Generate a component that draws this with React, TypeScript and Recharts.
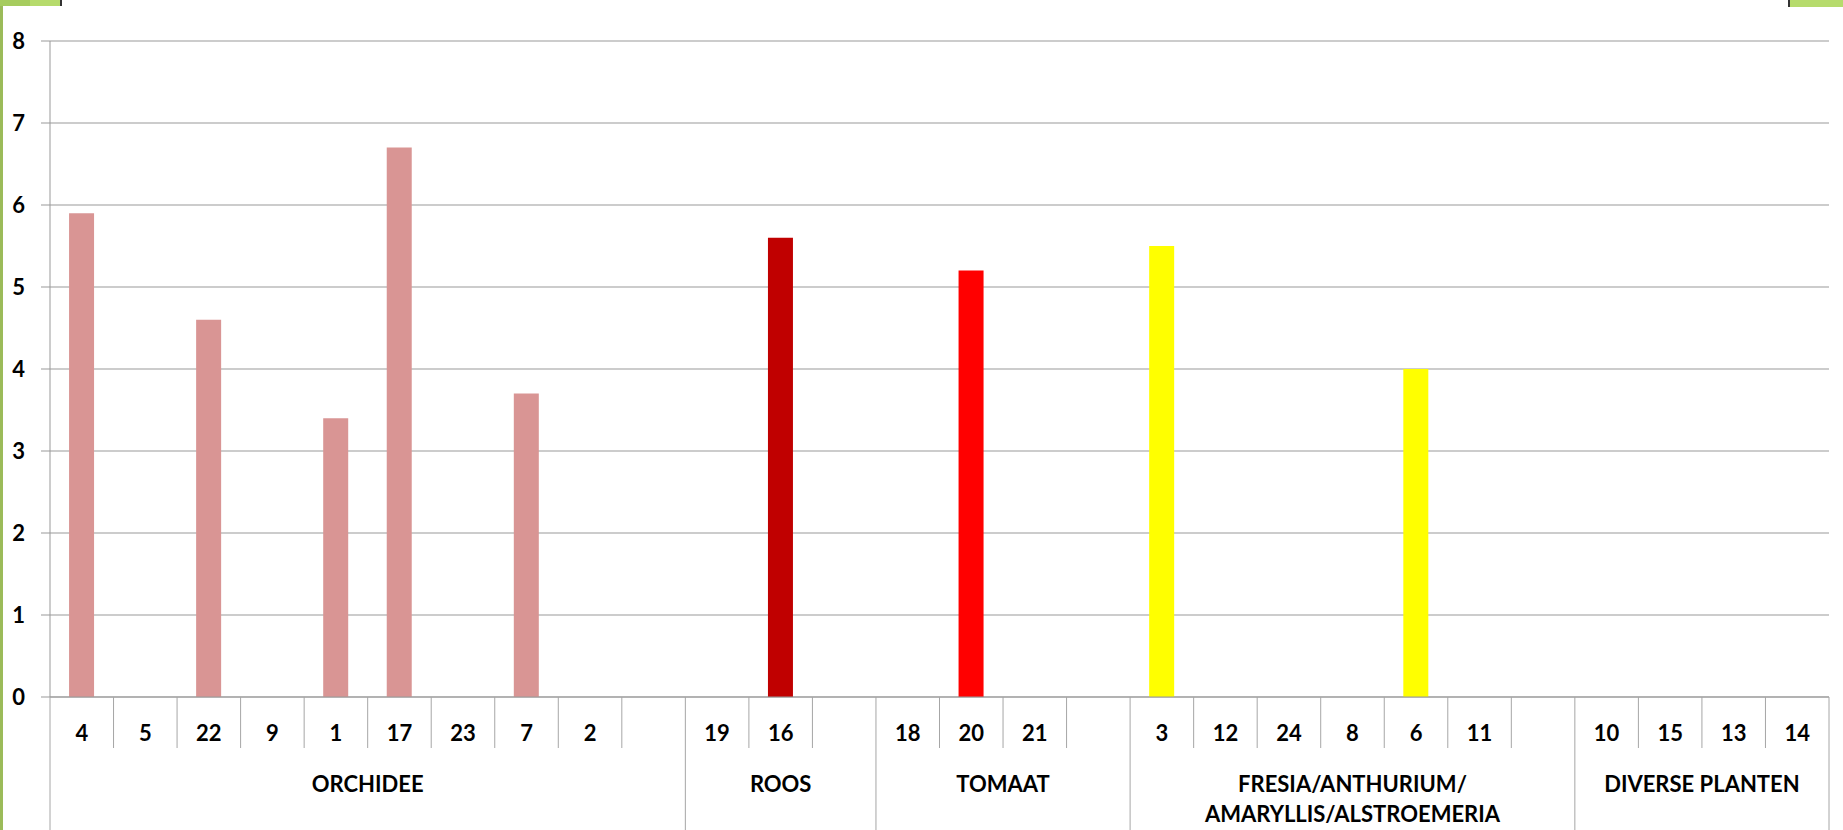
import React from 'react';
import { BarChart, Bar, XAxis, YAxis, CartesianGrid, Cell } from 'recharts';

const W = 1843;
const H = 830;
const MARGIN = { top: 41, right: 14, left: 0, bottom: 0 };
const Y_AXIS_W = 50;
const CAT_AXIS_H = 51;
const GROUP_AXIS_H = 82;

// one entry per slot on the axis, blanks are the gaps between groups
const categoryLabels = [
  '4', '5', '22', '9', '1', '17', '23', '7', '2', '',
  '19', '16', '',
  '18', '20', '21', '',
  '3', '12', '24', '8', '6', '11', '',
  '10', '15', '13', '14',
];
const values: (number | null)[] = [
  5.9, null, 4.6, null, 3.4, 6.7, null, 3.7, null, null,
  null, 5.6, null,
  null, 5.2, null, null,
  5.5, null, null, null, 4.0, null, null,
  null, null, null, null,
];
const groupNames = ['ORCHIDEE', 'ROOS', 'TOMAAT', 'FRESIA/ANTHURIUM/\nAMARYLLIS/ALSTROEMERIA', 'DIVERSE PLANTEN'];
const groupSizes = [10, 3, 4, 7, 4];
const groupColors = ['#D99594', '#C00000', '#FF0000', '#FFFF00', '#D99594'];
const yTicks = [0, 1, 2, 3, 4, 5, 6, 7, 8];

const groupOf: number[] = [];
groupSizes.forEach((n, g) => {
  for (let k = 0; k < n; k++) groupOf.push(g);
});
const groupStart: number[] = groupSizes.map((_, g) => groupSizes.slice(0, g).reduce((a, b) => a + b, 0));

const data = categoryLabels.map((label, i) => ({
  key: `c${i}`,
  label,
  value: values[i],
  color: groupColors[groupOf[i]],
}));

const PLOT_W = W - MARGIN.left - MARGIN.right - Y_AXIS_W;
const BAND = PLOT_W / categoryLabels.length;

const LINE = '#A6A6A6';
const GRID = '#999999';
const FONT = { fontFamily: 'Lato, sans-serif', fontWeight: 700, fontSize: 22, fill: '#000' };

const CatTick = (props: any) => {
  const { x, y, index } = props;
  const left = x - BAND / 2;
  return (
    <g>
      <line x1={left} x2={left} y1={y} y2={y + CAT_AXIS_H} stroke={LINE} />
      {index === categoryLabels.length - 1 && (
        <line x1={x + BAND / 2} x2={x + BAND / 2} y1={y} y2={y + CAT_AXIS_H} stroke={LINE} />
      )}
      <text x={x} y={y + 35} textAnchor="middle" dominantBaseline="central" {...FONT}>
        {categoryLabels[index]}
      </text>
    </g>
  );
};

const GroupTick = (props: any) => {
  const { x, y, index } = props;
  const g = groupOf[index];
  const isFirst = groupStart[g] === index;
  const isLast = index === categoryLabels.length - 1;
  if (!isFirst && !isLast) return <g />;
  const lines = groupNames[g].split('\n');
  const cx = x + ((groupSizes[g] - 1) * BAND) / 2;
  return (
    <g>
      {isFirst && <line x1={x - BAND / 2} x2={x - BAND / 2} y1={y} y2={y + GROUP_AXIS_H} stroke={LINE} />}
      {isLast && <line x1={x + BAND / 2} x2={x + BAND / 2} y1={y} y2={y + GROUP_AXIS_H} stroke={LINE} />}
      {isFirst &&
        lines.map((t, k) => (
          <text key={k} x={cx} y={y + 35 + k * 30} textAnchor="middle" dominantBaseline="central" {...FONT}>
            {t}
          </text>
        ))}
    </g>
  );
};

export default function App() {
  return (
    <div style={{ position: 'absolute', left: 0, top: 0, width: W, height: H, background: '#fff' }}>
      <BarChart width={W} height={H} data={data} margin={MARGIN} barCategoryGap="30%">
        <CartesianGrid xAxisId="cat" vertical={false} stroke={GRID} />
        <XAxis
          xAxisId="cat"
          dataKey="key"
          interval={0}
          height={CAT_AXIS_H}
          tickSize={0}
          tickMargin={0}
          axisLine={{ stroke: GRID }}
          tick={(p: any) => <CatTick {...p} />}
        />
        <XAxis
          xAxisId="grp"
          dataKey="key"
          interval={0}
          height={GROUP_AXIS_H}
          tickSize={0}
          tickMargin={0}
          axisLine={false}
          tick={(p: any) => <GroupTick {...p} />}
        />
        <YAxis
          width={Y_AXIS_W}
          domain={[0, 8]}
          ticks={yTicks}
          interval={0}
          tickSize={9}
          tickMargin={16}
          axisLine={{ stroke: GRID }}
          tickLine={{ stroke: GRID }}
          tick={FONT}
        />
        <Bar xAxisId="cat" dataKey="value" isAnimationActive={false}>
          {data.map((d) => (
            <Cell key={d.key} fill={d.color} />
          ))}
        </Bar>
      </BarChart>
      {/* slide decoration */}
      <div style={{ position: 'absolute', left: 0, top: 0, width: 3, height: H, background: '#9BBB59' }} />
      <div style={{ position: 'absolute', left: 0, top: 0, width: 30, height: 6, background: '#A6CC5E' }} />
      <div style={{ position: 'absolute', left: 30, top: 0, width: 30, height: 6, background: '#B6DB6C' }} />
      <div style={{ position: 'absolute', left: 60, top: 0, width: 2, height: 6, background: '#333' }} />
      <div style={{ position: 'absolute', left: 1788, top: 0, width: 2, height: 7, background: '#333' }} />
      <div style={{ position: 'absolute', left: 1790, top: 0, width: 53, height: 7, background: '#B6DB6C' }} />
    </div>
  );
}
